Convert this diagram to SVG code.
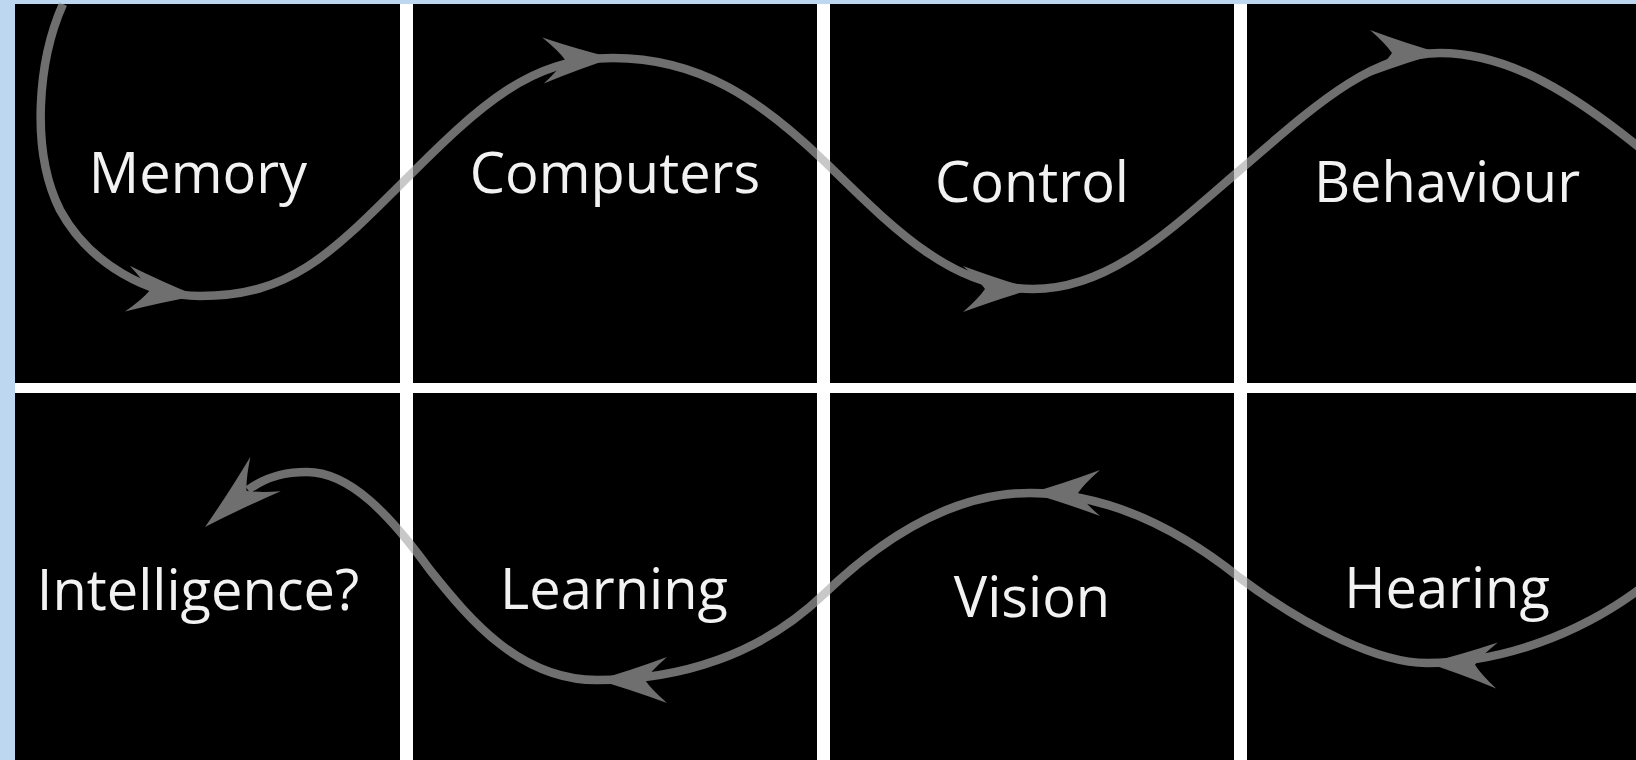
<svg xmlns="http://www.w3.org/2000/svg" width="1636" height="760" viewBox="0 0 1636 760">
  <defs>
    <style>
      .panel { fill: #000000; }
      .label { font-family: "Open Sans", "Noto Sans", "Liberation Sans", sans-serif; font-size: 56px; fill: #f2f2f2; text-anchor: middle; }
      .flow { fill: none; stroke: #ababab; stroke-width: 8.5; stroke-linecap: butt; }
      .head { fill: #ababab; }
    </style>
    <path id="ah" d="M0,0 Q-32,-9 -70,-23 Q-54,-9 -48,0 Q-54,9 -70,23 Q-32,9 0,0 Z"/>
  </defs>

  <rect x="0" y="0" width="1636" height="760" fill="#bcd7ef"/>
  <rect x="15" y="4" width="1621" height="756" fill="#ffffff"/>

  <g id="node-memory">
    <rect class="panel" x="15" y="4" width="385" height="379"/>
    <text class="label" x="198" y="193">Memory</text>
  </g>
  <g id="node-computers">
    <rect class="panel" x="413" y="4" width="404" height="379"/>
    <text class="label" x="615" y="193">Computers</text>
  </g>
  <g id="node-control">
    <rect class="panel" x="830" y="4" width="404" height="379"/>
    <text class="label" x="1032" y="202">Control</text>
  </g>
  <g id="node-behaviour">
    <rect class="panel" x="1247" y="4" width="389" height="379"/>
    <text class="label" x="1447" y="202">Behaviour</text>
  </g>
  <g id="node-intelligence">
    <rect class="panel" x="15" y="393" width="385" height="367"/>
    <text class="label" x="198" y="610">Intelligence?</text>
  </g>
  <g id="node-learning">
    <rect class="panel" x="413" y="393" width="404" height="367"/>
    <text class="label" x="614" y="609">Learning</text>
  </g>
  <g id="node-vision">
    <rect class="panel" x="830" y="393" width="404" height="367"/>
    <text class="label" x="1032" y="617">Vision</text>
  </g>
  <g id="node-hearing">
    <rect class="panel" x="1247" y="393" width="389" height="367"/>
    <text class="label" x="1447" y="608">Hearing</text>
  </g>

  <g id="connectors" opacity="0.65">
    <path class="flow" d="M63,4 C38,60 30,150 60,210 C90,265 150,296 200,296 C290,296 330,255 405,180 C480,105 530,58 613,58 C700,58 760,100 823,160 C890,225 950,289 1033,289 C1110,289 1170,230 1240,170 C1310,110 1370,53 1440,53 C1510,53 1575,95 1645,152"/>
    <path class="flow" d="M1645,585 C1580,635 1500,663 1427,663 C1380,663 1310,630 1240,578 C1180,530 1110,493 1030,493 C950,493 880,540 823,595 C760,655 680,680 597,680 C520,680 470,620 430,570 C390,515 350,472 307,472 C288,472 268,475 248,490"/>
    <use href="#ah" class="head" transform="translate(197,296) rotate(6)"/>
    <use href="#ah" class="head" transform="translate(613,58) rotate(-2)"/>
    <use href="#ah" class="head" transform="translate(1033,289) rotate(0)"/>
    <use href="#ah" class="head" transform="translate(1440,53) rotate(0)"/>
    <use href="#ah" class="head" transform="translate(1427,663) rotate(182)"/>
    <use href="#ah" class="head" transform="translate(1030,493) rotate(180)"/>
    <use href="#ah" class="head" transform="translate(597,680) rotate(180)"/>
    <use href="#ah" class="head" transform="translate(205,527) rotate(138.8) scale(1.15,1)"/>
  </g>
</svg>
